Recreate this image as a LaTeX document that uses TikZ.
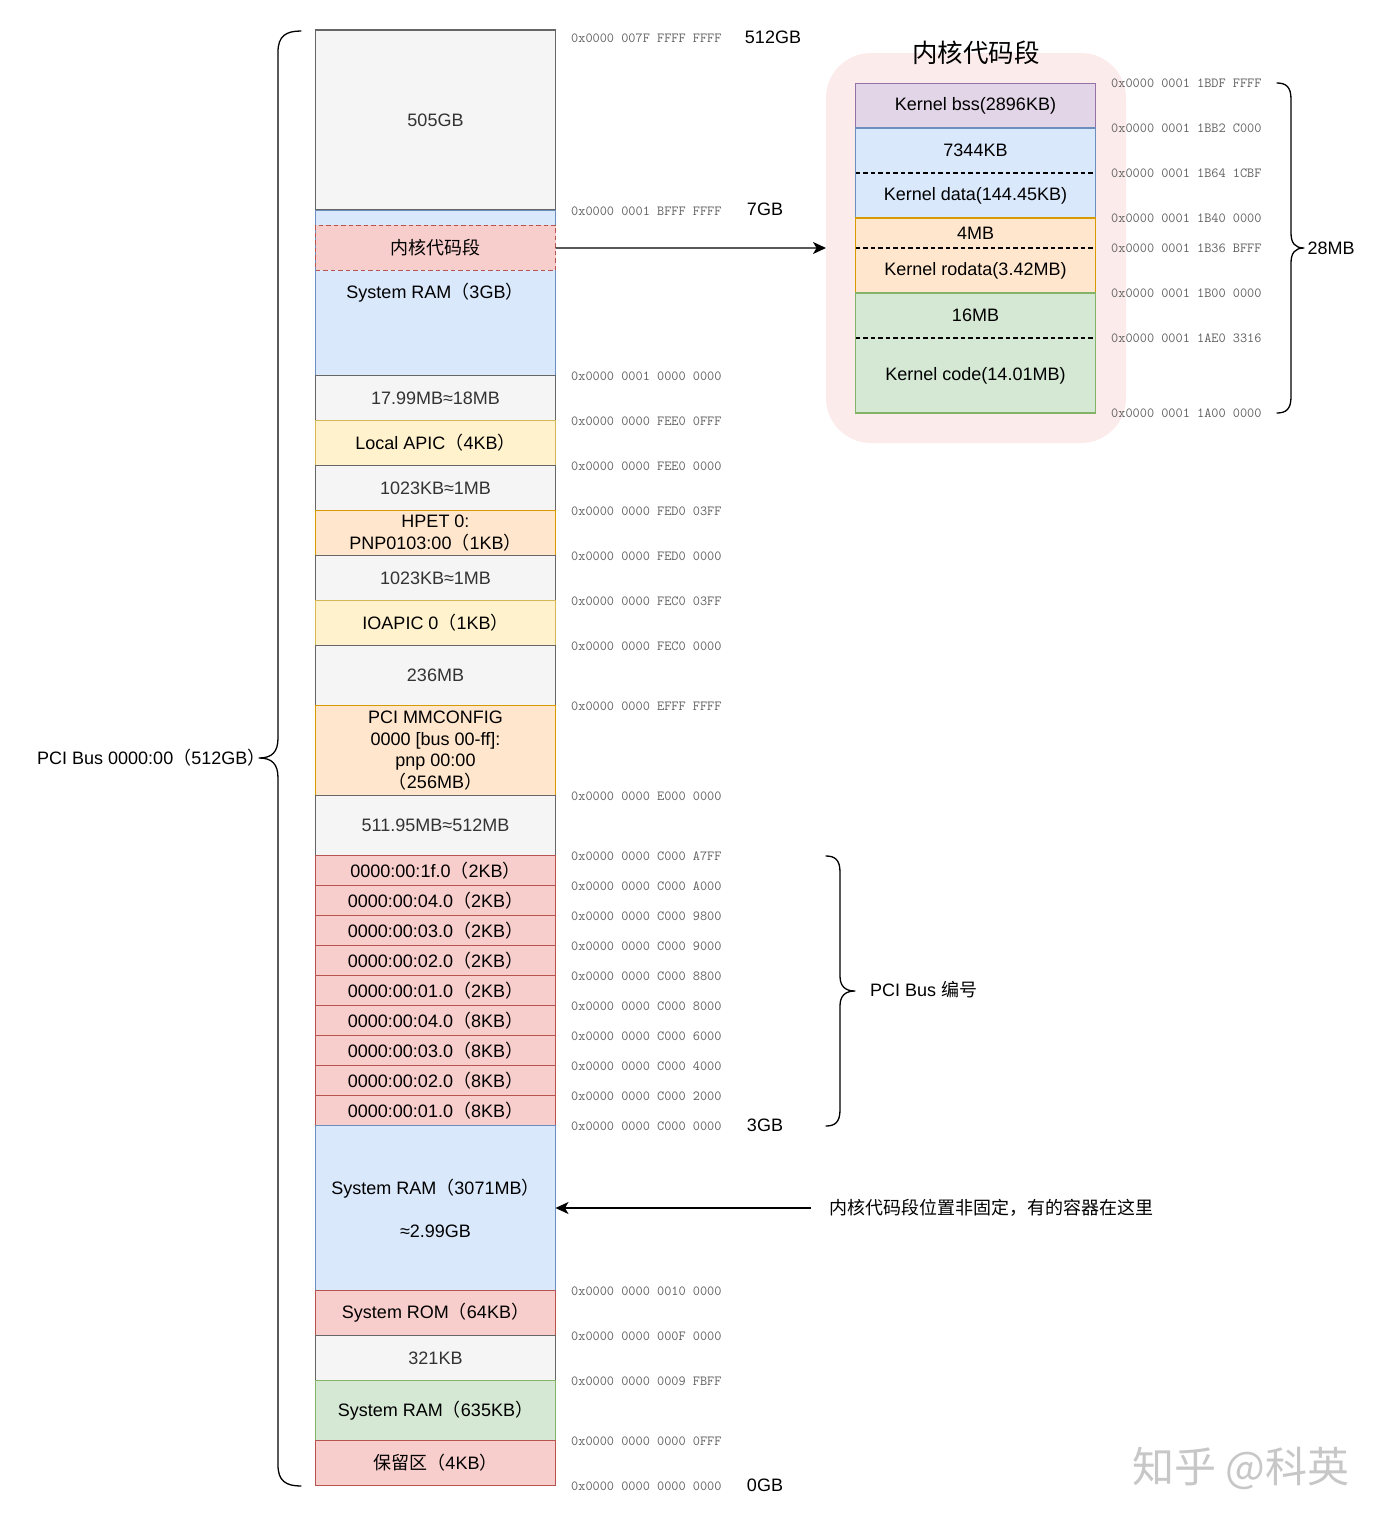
\documentclass[tikz,border=0pt]{standalone}
\usepackage{fontspec}
\setmainfont{Liberation Sans}
\newfontfamily\cjk{Noto Sans CJK SC}
\usetikzlibrary{arrows.meta}
\definecolor{gfill}{HTML}{F5F5F5}\definecolor{gline}{HTML}{666666}
\definecolor{bfill}{HTML}{DAE8FC}\definecolor{bline}{HTML}{6C8EBF}
\definecolor{rfill}{HTML}{F8CECC}\definecolor{rline}{HTML}{B85450}
\definecolor{yfill}{HTML}{FFF2CC}\definecolor{yline}{HTML}{D6B656}
\definecolor{ofill}{HTML}{FFE6CC}\definecolor{oline}{HTML}{D79B00}
\definecolor{nfill}{HTML}{D5E8D4}\definecolor{nline}{HTML}{82B366}
\definecolor{pfill}{HTML}{E1D5E7}\definecolor{pline}{HTML}{9673A6}
\definecolor{panelfill}{HTML}{FCEBEB}
\newcommand\lp{{\cjk （}}
\newcommand\rp{{\cjk ）}}
\tikzset{
  cell/.style={rectangle,draw,line width=1.2pt,inner sep=0pt,outer sep=0pt,align=center,minimum width=240pt,
    font=\fontsize{18}{21.5}\selectfont},
  grayc/.style={cell,fill=gfill,draw=gline,text=black!80},
  bluec/.style={cell,fill=bfill,draw=bline},
  redc/.style={cell,fill=rfill,draw=rline},
  yelc/.style={cell,fill=yfill,draw=yline},
  orac/.style={cell,fill=ofill,draw=oline},
  grec/.style={cell,fill=nfill,draw=nline},
  purc/.style={cell,fill=pfill,draw=pline},
  addr/.style={anchor=west,inner sep=0pt,text=black!62,font=\ttfamily\fontsize{13.9}{14}\selectfont},
  lbl/.style={inner sep=0pt,align=center,font=\fontsize{18}{21.5}\selectfont},
  conn/.style={line width=1.3pt,-{Stealth[length=13pt,width=12pt,inset=3.5pt]}},
  brace/.style={line width=1.3pt,line cap=round},
  sep/.style={line width=1.2pt,dash pattern=on 4.5pt off 3pt},
}
% name, top, bottom, style, text
\newcommand\mrow[5]{\pgfmathsetmacro\ymid{(#2+#3)/2-0.6}\pgfmathsetmacro\hh{#3-#2}%
  \node[#4,minimum height=\hh pt] (#1) at (435.5,\ymid) {#5};}
\newcommand\krow[5]{\pgfmathsetmacro\ymid{(#2+#3)/2}\pgfmathsetmacro\hh{#3-#2}%
  \node[#4,minimum height=\hh pt] (#1) at (975.5,\ymid) {#5};}
\newcommand\adr[3]{\node[addr] (#1) at (#3,#2) {0x0000 #1};}
\begin{document}
\begin{tikzpicture}[x=1pt,y=-1pt]
\useasboundingbox (0,0) rectangle (1385,1524);
\fill[white] (0,0) rectangle (1385,1524);
% main column
\mrow{r505}{30.5}{210.5}{grayc}{505GB}
\mrow{rram3}{211}{376}{bluec}{}
\mrow{rkern}{226}{271}{redc,dash pattern=on 4.5pt off 3pt}{\cjk 内核代码段}
\node[lbl] (tram3) at (435,292.5) {System RAM\lp 3GB\rp};
\mrow{r18}{376}{421}{grayc}{17.99MB≈18MB}
\mrow{rapic}{421}{466}{yelc}{Local APIC\lp 4KB\rp}
\mrow{r1a}{466}{511}{grayc}{1023KB≈1MB}
\mrow{rhpet}{511}{556}{orac}{HPET 0:\\PNP0103:00\lp 1KB\rp}
\mrow{r1b}{556}{601}{grayc}{1023KB≈1MB}
\mrow{rioa}{601}{646}{yelc}{IOAPIC 0\lp 1KB\rp}
\mrow{r236}{646}{706}{grayc}{236MB}
\mrow{rpci}{706}{796}{orac}{PCI MMCONFIG\\0000 [bus 00-ff]:\\pnp 00:00\\\lp 256MB\rp}
\mrow{r512}{796}{856}{grayc}{511.95MB≈512MB}
\mrow{p1}{856}{886}{redc}{0000:00:1f.0\lp 2KB\rp}
\mrow{p2}{886}{916}{redc}{0000:00:04.0\lp 2KB\rp}
\mrow{p3}{916}{946}{redc}{0000:00:03.0\lp 2KB\rp}
\mrow{p4}{946}{976}{redc}{0000:00:02.0\lp 2KB\rp}
\mrow{p5}{976}{1006}{redc}{0000:00:01.0\lp 2KB\rp}
\mrow{p6}{1006}{1036}{redc}{0000:00:04.0\lp 8KB\rp}
\mrow{p7}{1036}{1066}{redc}{0000:00:03.0\lp 8KB\rp}
\mrow{p8}{1066}{1096}{redc}{0000:00:02.0\lp 8KB\rp}
\mrow{p9}{1096}{1126}{redc}{0000:00:01.0\lp 8KB\rp}
\mrow{rram2}{1126}{1291}{bluec}{System RAM\lp 3071MB\rp\\ \\≈2.99GB}
\mrow{rrom}{1291}{1336}{redc}{System ROM\lp 64KB\rp}
\mrow{r321}{1336}{1381}{grayc}{321KB}
\mrow{rram1}{1381}{1441}{grec}{System RAM\lp 635KB\rp}
\mrow{rres}{1441}{1486}{redc}{{\cjk 保留区}\lp 4KB\rp}
% kernel panel
\node[rectangle,rounded corners=45pt,fill=panelfill,minimum width=300pt,minimum height=390pt,inner sep=0pt,outer sep=0pt] (panel) at (976,248) {};
\node[inner sep=0pt,font=\cjk\fontsize{25.5}{28}\selectfont] (ptitle) at (976,53) {内核代码段};
\krow{kbss}{83.5}{128}{purc}{Kernel bss(2896KB)}
\krow{kdata}{128}{218}{bluec}{}
\krow{kro}{218}{293}{orac}{}
\krow{kcode}{293}{413}{grec}{}
\node[lbl] (t7344) at (975.5,150) {7344KB};
\node[lbl] (tdata) at (975.5,196) {Kernel data(144.45KB)};
\node[lbl] (t4mb) at (975.5,233) {4MB};
\node[lbl] (trod) at (975.5,271) {Kernel rodata(3.42MB)};
\node[lbl] (t16) at (975.5,315) {16MB};
\node[lbl] (tcode) at (975.5,376) {Kernel code(14.01MB)};
\draw[sep] (kdata.west) -- (kdata.east);
\draw[sep] (kro.west |- 0,248) coordinate (ka) -- (kro.east |- ka);
\draw[sep] (kcode.west |- 0,338) coordinate (kb) -- (kcode.east |- kb);
% addresses main
\adr{007F FFFF FFFF}{38}{571}
\adr{0001 BFFF FFFF}{211}{571}
\adr{0001 0000 0000}{376}{571}
\adr{0000 FEE0 0FFF}{421}{571}
\adr{0000 FEE0 0000}{466}{571}
\adr{0000 FED0 03FF}{511}{571}
\adr{0000 FED0 0000}{556}{571}
\adr{0000 FEC0 03FF}{601}{571}
\adr{0000 FEC0 0000}{646}{571}
\adr{0000 EFFF FFFF}{706}{571}
\adr{0000 E000 0000}{796}{571}
\adr{0000 C000 A7FF}{856}{571}
\adr{0000 C000 A000}{886}{571}
\adr{0000 C000 9800}{916}{571}
\adr{0000 C000 9000}{946}{571}
\adr{0000 C000 8800}{976}{571}
\adr{0000 C000 8000}{1006}{571}
\adr{0000 C000 6000}{1036}{571}
\adr{0000 C000 4000}{1066}{571}
\adr{0000 C000 2000}{1096}{571}
\adr{0000 C000 0000}{1126}{571}
\adr{0000 0010 0000}{1291}{571}
\adr{0000 000F 0000}{1336}{571}
\adr{0000 0009 FBFF}{1381}{571}
\adr{0000 0000 0FFF}{1441}{571}
\adr{0000 0000 0000}{1486}{571}
% addresses kernel
\adr{0001 1BDF FFFF}{83}{1111}
\adr{0001 1BB2 C000}{128}{1111}
\adr{0001 1B64 1CBF}{173}{1111}
\adr{0001 1B40 0000}{218}{1111}
\adr{0001 1B36 BFFF}{248}{1111}
\adr{0001 1B00 0000}{293}{1111}
\adr{0001 1AE0 3316}{338}{1111}
\adr{0001 1A00 0000}{413}{1111}
% size labels
\node[lbl] (g512) at (773,37.5) {512GB};
\node[lbl] (g7) at (765,209.5) {7GB};
\node[lbl] (g3) at (765,1125) {3GB};
\node[lbl] (g0) at (765,1485) {0GB};
\node[lbl] (m28) at (1331,248) {28MB};
\node[lbl,anchor=west] (pcino) at (870,989.5) {PCI Bus {\cjk 编号}};
\node[lbl,anchor=west] (pcibus) at (37,758) {PCI Bus 0000:00\lp 512GB\rp};
\node[lbl,anchor=west] (note) at (829,1208) {\cjk 内核代码段位置非固定，有的容器在这里};
\node[inner sep=0pt,anchor=west,text=black!22,font=\cjk\fontsize{42}{44}\selectfont] (wm) at (1132,1468) {知乎 @科英};
% connectors
\draw[conn] (rkern.east) -- (panel.west);
\coordinate (nstart) at (811,1208);
\draw[conn] (nstart) -- (nstart -| rram2.east);
% braces
\coordinate (b1t) at (301,31);\coordinate (b1m) at (259,758);\coordinate (b1b) at (301,1486);
\draw[brace] (b1t) .. controls +(-15,0) and (278,36) .. (278,52) -- (278,738)
  .. controls (278,752) and (272,758) .. (b1m)
  (b1m) .. controls (272,758) and (278,764) .. (278,778) -- (278,1465)
  .. controls (278,1481) and (286,1486) .. (b1b);
\coordinate (b2t) at (826,856);\coordinate (b2m) at (855,991);\coordinate (b2b) at (826,1126);
\draw[brace] (b2t) .. controls +(9,0) and (840,860) .. (840,872) -- (840,976)
  .. controls (840,986) and (845,991) .. (b2m)
  (b2m) .. controls (845,991) and (840,996) .. (840,1006) -- (840,1110)
  .. controls (840,1122) and (835,1126) .. (b2b);
\coordinate (b3t) at (1277,83);\coordinate (b3m) at (1304,248);\coordinate (b3b) at (1277,413);
\draw[brace] (b3t) .. controls +(9,0) and (1291,87) .. (1291,99) -- (1291,233)
  .. controls (1291,243) and (1295,248) .. (b3m)
  (b3m) .. controls (1295,248) and (1291,253) .. (1291,263) -- (1291,397)
  .. controls (1291,409) and (1286,413) .. (b3b);
\end{tikzpicture}
\end{document}
